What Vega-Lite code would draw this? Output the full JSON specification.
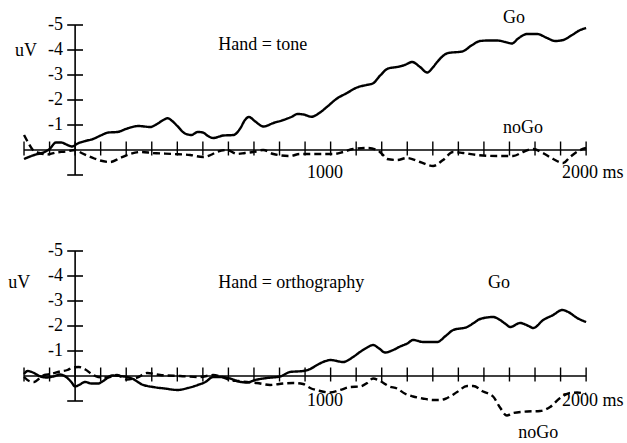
{
  "$schema": "https://vega.github.io/schema/vega-lite/v6.json",
  "background": "white",
  "padding": 0,
  "spacing": 11,
  "config": {"view": {"stroke": null}, "text": {"font": "Liberation Serif", "fontSize": 18, "color": "black"}},
  "datasets": {
    "erp": [
      {"hand": "tone", "cond": "Go", "t": -200, "v": 0.36},
      {"hand": "tone", "cond": "Go", "t": -160, "v": 0.2},
      {"hand": "tone", "cond": "Go", "t": -120, "v": 0.08},
      {"hand": "tone", "cond": "Go", "t": -100, "v": -0.04},
      {"hand": "tone", "cond": "Go", "t": -75, "v": -0.3},
      {"hand": "tone", "cond": "Go", "t": -55, "v": -0.3},
      {"hand": "tone", "cond": "Go", "t": -30, "v": -0.2},
      {"hand": "tone", "cond": "Go", "t": -12, "v": -0.14},
      {"hand": "tone", "cond": "Go", "t": 10, "v": -0.26},
      {"hand": "tone", "cond": "Go", "t": 40, "v": -0.36},
      {"hand": "tone", "cond": "Go", "t": 70, "v": -0.44},
      {"hand": "tone", "cond": "Go", "t": 100, "v": -0.58},
      {"hand": "tone", "cond": "Go", "t": 130, "v": -0.7},
      {"hand": "tone", "cond": "Go", "t": 165, "v": -0.72},
      {"hand": "tone", "cond": "Go", "t": 204, "v": -0.86},
      {"hand": "tone", "cond": "Go", "t": 247, "v": -0.96},
      {"hand": "tone", "cond": "Go", "t": 294, "v": -0.92},
      {"hand": "tone", "cond": "Go", "t": 321, "v": -1.04},
      {"hand": "tone", "cond": "Go", "t": 345, "v": -1.2},
      {"hand": "tone", "cond": "Go", "t": 362, "v": -1.27},
      {"hand": "tone", "cond": "Go", "t": 380, "v": -1.16},
      {"hand": "tone", "cond": "Go", "t": 400, "v": -0.96},
      {"hand": "tone", "cond": "Go", "t": 430, "v": -0.66},
      {"hand": "tone", "cond": "Go", "t": 455, "v": -0.6},
      {"hand": "tone", "cond": "Go", "t": 480, "v": -0.72},
      {"hand": "tone", "cond": "Go", "t": 500, "v": -0.7},
      {"hand": "tone", "cond": "Go", "t": 520, "v": -0.56},
      {"hand": "tone", "cond": "Go", "t": 540, "v": -0.48},
      {"hand": "tone", "cond": "Go", "t": 580, "v": -0.58},
      {"hand": "tone", "cond": "Go", "t": 620, "v": -0.6},
      {"hand": "tone", "cond": "Go", "t": 646, "v": -0.86},
      {"hand": "tone", "cond": "Go", "t": 665, "v": -1.2},
      {"hand": "tone", "cond": "Go", "t": 680, "v": -1.32},
      {"hand": "tone", "cond": "Go", "t": 705, "v": -1.14},
      {"hand": "tone", "cond": "Go", "t": 737, "v": -0.94},
      {"hand": "tone", "cond": "Go", "t": 776, "v": -1.08},
      {"hand": "tone", "cond": "Go", "t": 815, "v": -1.2},
      {"hand": "tone", "cond": "Go", "t": 850, "v": -1.34},
      {"hand": "tone", "cond": "Go", "t": 870, "v": -1.44},
      {"hand": "tone", "cond": "Go", "t": 894, "v": -1.42},
      {"hand": "tone", "cond": "Go", "t": 925, "v": -1.33},
      {"hand": "tone", "cond": "Go", "t": 953, "v": -1.46},
      {"hand": "tone", "cond": "Go", "t": 985, "v": -1.72},
      {"hand": "tone", "cond": "Go", "t": 1025, "v": -2.06},
      {"hand": "tone", "cond": "Go", "t": 1064, "v": -2.28},
      {"hand": "tone", "cond": "Go", "t": 1103, "v": -2.5},
      {"hand": "tone", "cond": "Go", "t": 1140, "v": -2.6},
      {"hand": "tone", "cond": "Go", "t": 1165, "v": -2.66},
      {"hand": "tone", "cond": "Go", "t": 1194, "v": -2.98},
      {"hand": "tone", "cond": "Go", "t": 1225, "v": -3.26},
      {"hand": "tone", "cond": "Go", "t": 1260, "v": -3.32},
      {"hand": "tone", "cond": "Go", "t": 1290, "v": -3.4},
      {"hand": "tone", "cond": "Go", "t": 1319, "v": -3.52},
      {"hand": "tone", "cond": "Go", "t": 1350, "v": -3.32},
      {"hand": "tone", "cond": "Go", "t": 1378, "v": -3.1},
      {"hand": "tone", "cond": "Go", "t": 1400, "v": -3.3},
      {"hand": "tone", "cond": "Go", "t": 1417, "v": -3.52},
      {"hand": "tone", "cond": "Go", "t": 1460, "v": -3.88},
      {"hand": "tone", "cond": "Go", "t": 1515, "v": -3.94},
      {"hand": "tone", "cond": "Go", "t": 1554, "v": -4.2},
      {"hand": "tone", "cond": "Go", "t": 1585, "v": -4.36},
      {"hand": "tone", "cond": "Go", "t": 1620, "v": -4.38},
      {"hand": "tone", "cond": "Go", "t": 1652, "v": -4.38},
      {"hand": "tone", "cond": "Go", "t": 1683, "v": -4.32},
      {"hand": "tone", "cond": "Go", "t": 1710, "v": -4.26},
      {"hand": "tone", "cond": "Go", "t": 1734, "v": -4.46},
      {"hand": "tone", "cond": "Go", "t": 1769, "v": -4.64},
      {"hand": "tone", "cond": "Go", "t": 1808, "v": -4.64},
      {"hand": "tone", "cond": "Go", "t": 1847, "v": -4.48},
      {"hand": "tone", "cond": "Go", "t": 1879, "v": -4.36},
      {"hand": "tone", "cond": "Go", "t": 1910, "v": -4.4},
      {"hand": "tone", "cond": "Go", "t": 1945, "v": -4.6},
      {"hand": "tone", "cond": "Go", "t": 1977, "v": -4.8},
      {"hand": "tone", "cond": "Go", "t": 2000, "v": -4.88},

      {"hand": "tone", "cond": "noGo", "t": -200, "v": -0.6},
      {"hand": "tone", "cond": "noGo", "t": -184, "v": -0.3},
      {"hand": "tone", "cond": "noGo", "t": -165, "v": 0.0},
      {"hand": "tone", "cond": "noGo", "t": -140, "v": 0.12},
      {"hand": "tone", "cond": "noGo", "t": -110, "v": 0.18},
      {"hand": "tone", "cond": "noGo", "t": -75, "v": 0.1},
      {"hand": "tone", "cond": "noGo", "t": -35, "v": 0.06},
      {"hand": "tone", "cond": "noGo", "t": 0, "v": 0.0},
      {"hand": "tone", "cond": "noGo", "t": 25, "v": 0.12},
      {"hand": "tone", "cond": "noGo", "t": 47, "v": 0.22},
      {"hand": "tone", "cond": "noGo", "t": 75, "v": 0.34},
      {"hand": "tone", "cond": "noGo", "t": 98, "v": 0.42},
      {"hand": "tone", "cond": "noGo", "t": 137, "v": 0.48},
      {"hand": "tone", "cond": "noGo", "t": 176, "v": 0.32},
      {"hand": "tone", "cond": "noGo", "t": 215, "v": 0.16},
      {"hand": "tone", "cond": "noGo", "t": 254, "v": 0.08},
      {"hand": "tone", "cond": "noGo", "t": 305, "v": 0.12},
      {"hand": "tone", "cond": "noGo", "t": 384, "v": 0.16},
      {"hand": "tone", "cond": "noGo", "t": 450, "v": 0.2},
      {"hand": "tone", "cond": "noGo", "t": 501, "v": 0.28},
      {"hand": "tone", "cond": "noGo", "t": 530, "v": 0.2},
      {"hand": "tone", "cond": "noGo", "t": 555, "v": 0.08},
      {"hand": "tone", "cond": "noGo", "t": 595, "v": 0.0},
      {"hand": "tone", "cond": "noGo", "t": 634, "v": 0.16},
      {"hand": "tone", "cond": "noGo", "t": 665, "v": 0.12},
      {"hand": "tone", "cond": "noGo", "t": 697, "v": 0.08},
      {"hand": "tone", "cond": "noGo", "t": 736, "v": 0.0},
      {"hand": "tone", "cond": "noGo", "t": 776, "v": 0.16},
      {"hand": "tone", "cond": "noGo", "t": 841, "v": 0.24},
      {"hand": "tone", "cond": "noGo", "t": 880, "v": 0.16},
      {"hand": "tone", "cond": "noGo", "t": 960, "v": 0.16},
      {"hand": "tone", "cond": "noGo", "t": 1010, "v": 0.16},
      {"hand": "tone", "cond": "noGo", "t": 1049, "v": 0.08},
      {"hand": "tone", "cond": "noGo", "t": 1088, "v": -0.04},
      {"hand": "tone", "cond": "noGo", "t": 1143, "v": -0.08},
      {"hand": "tone", "cond": "noGo", "t": 1182, "v": 0.0},
      {"hand": "tone", "cond": "noGo", "t": 1205, "v": 0.2},
      {"hand": "tone", "cond": "noGo", "t": 1221, "v": 0.36},
      {"hand": "tone", "cond": "noGo", "t": 1260, "v": 0.4},
      {"hand": "tone", "cond": "noGo", "t": 1299, "v": 0.32},
      {"hand": "tone", "cond": "noGo", "t": 1350, "v": 0.48},
      {"hand": "tone", "cond": "noGo", "t": 1401, "v": 0.64},
      {"hand": "tone", "cond": "noGo", "t": 1440, "v": 0.4},
      {"hand": "tone", "cond": "noGo", "t": 1479, "v": 0.08},
      {"hand": "tone", "cond": "noGo", "t": 1518, "v": 0.12},
      {"hand": "tone", "cond": "noGo", "t": 1573, "v": 0.2},
      {"hand": "tone", "cond": "noGo", "t": 1652, "v": 0.24},
      {"hand": "tone", "cond": "noGo", "t": 1714, "v": 0.24},
      {"hand": "tone", "cond": "noGo", "t": 1753, "v": 0.08},
      {"hand": "tone", "cond": "noGo", "t": 1792, "v": -0.04},
      {"hand": "tone", "cond": "noGo", "t": 1831, "v": 0.12},
      {"hand": "tone", "cond": "noGo", "t": 1871, "v": 0.36},
      {"hand": "tone", "cond": "noGo", "t": 1910, "v": 0.52},
      {"hand": "tone", "cond": "noGo", "t": 1937, "v": 0.28},
      {"hand": "tone", "cond": "noGo", "t": 1969, "v": 0.04},
      {"hand": "tone", "cond": "noGo", "t": 2000, "v": -0.08},

      {"hand": "orthography", "cond": "Go", "t": -200, "v": -0.08},
      {"hand": "orthography", "cond": "Go", "t": -185, "v": -0.2},
      {"hand": "orthography", "cond": "Go", "t": -165, "v": -0.14},
      {"hand": "orthography", "cond": "Go", "t": -140, "v": 0.0},
      {"hand": "orthography", "cond": "Go", "t": -110, "v": 0.06},
      {"hand": "orthography", "cond": "Go", "t": -85, "v": 0.02},
      {"hand": "orthography", "cond": "Go", "t": -59, "v": -0.06},
      {"hand": "orthography", "cond": "Go", "t": -35, "v": 0.04},
      {"hand": "orthography", "cond": "Go", "t": -15, "v": 0.24},
      {"hand": "orthography", "cond": "Go", "t": 0, "v": 0.42},
      {"hand": "orthography", "cond": "Go", "t": 15, "v": 0.36},
      {"hand": "orthography", "cond": "Go", "t": 39, "v": 0.24},
      {"hand": "orthography", "cond": "Go", "t": 65, "v": 0.3},
      {"hand": "orthography", "cond": "Go", "t": 90, "v": 0.3},
      {"hand": "orthography", "cond": "Go", "t": 110, "v": 0.2},
      {"hand": "orthography", "cond": "Go", "t": 145, "v": -0.02},
      {"hand": "orthography", "cond": "Go", "t": 175, "v": 0.0},
      {"hand": "orthography", "cond": "Go", "t": 203, "v": 0.04},
      {"hand": "orthography", "cond": "Go", "t": 223, "v": 0.1},
      {"hand": "orthography", "cond": "Go", "t": 262, "v": 0.34},
      {"hand": "orthography", "cond": "Go", "t": 305, "v": 0.44},
      {"hand": "orthography", "cond": "Go", "t": 350, "v": 0.5},
      {"hand": "orthography", "cond": "Go", "t": 403, "v": 0.56},
      {"hand": "orthography", "cond": "Go", "t": 442, "v": 0.48},
      {"hand": "orthography", "cond": "Go", "t": 480, "v": 0.36},
      {"hand": "orthography", "cond": "Go", "t": 510, "v": 0.24},
      {"hand": "orthography", "cond": "Go", "t": 540, "v": 0.04},
      {"hand": "orthography", "cond": "Go", "t": 575, "v": 0.04},
      {"hand": "orthography", "cond": "Go", "t": 607, "v": 0.1},
      {"hand": "orthography", "cond": "Go", "t": 640, "v": 0.22},
      {"hand": "orthography", "cond": "Go", "t": 673, "v": 0.26},
      {"hand": "orthography", "cond": "Go", "t": 705, "v": 0.16},
      {"hand": "orthography", "cond": "Go", "t": 751, "v": 0.08},
      {"hand": "orthography", "cond": "Go", "t": 802, "v": 0.02},
      {"hand": "orthography", "cond": "Go", "t": 841, "v": -0.16},
      {"hand": "orthography", "cond": "Go", "t": 892, "v": -0.2},
      {"hand": "orthography", "cond": "Go", "t": 920, "v": -0.28},
      {"hand": "orthography", "cond": "Go", "t": 947, "v": -0.44},
      {"hand": "orthography", "cond": "Go", "t": 975, "v": -0.58},
      {"hand": "orthography", "cond": "Go", "t": 1000, "v": -0.64},
      {"hand": "orthography", "cond": "Go", "t": 1049, "v": -0.56},
      {"hand": "orthography", "cond": "Go", "t": 1088, "v": -0.76},
      {"hand": "orthography", "cond": "Go", "t": 1115, "v": -0.96},
      {"hand": "orthography", "cond": "Go", "t": 1143, "v": -1.14},
      {"hand": "orthography", "cond": "Go", "t": 1166, "v": -1.24},
      {"hand": "orthography", "cond": "Go", "t": 1190, "v": -1.1},
      {"hand": "orthography", "cond": "Go", "t": 1213, "v": -0.94},
      {"hand": "orthography", "cond": "Go", "t": 1245, "v": -1.04},
      {"hand": "orthography", "cond": "Go", "t": 1272, "v": -1.18},
      {"hand": "orthography", "cond": "Go", "t": 1300, "v": -1.3},
      {"hand": "orthography", "cond": "Go", "t": 1323, "v": -1.44},
      {"hand": "orthography", "cond": "Go", "t": 1362, "v": -1.36},
      {"hand": "orthography", "cond": "Go", "t": 1417, "v": -1.36},
      {"hand": "orthography", "cond": "Go", "t": 1450, "v": -1.6},
      {"hand": "orthography", "cond": "Go", "t": 1480, "v": -1.84},
      {"hand": "orthography", "cond": "Go", "t": 1534, "v": -1.96},
      {"hand": "orthography", "cond": "Go", "t": 1560, "v": -2.12},
      {"hand": "orthography", "cond": "Go", "t": 1585, "v": -2.28},
      {"hand": "orthography", "cond": "Go", "t": 1636, "v": -2.36},
      {"hand": "orthography", "cond": "Go", "t": 1663, "v": -2.24},
      {"hand": "orthography", "cond": "Go", "t": 1685, "v": -2.08},
      {"hand": "orthography", "cond": "Go", "t": 1703, "v": -1.96},
      {"hand": "orthography", "cond": "Go", "t": 1742, "v": -2.12},
      {"hand": "orthography", "cond": "Go", "t": 1775, "v": -2.0},
      {"hand": "orthography", "cond": "Go", "t": 1793, "v": -1.92},
      {"hand": "orthography", "cond": "Go", "t": 1832, "v": -2.24},
      {"hand": "orthography", "cond": "Go", "t": 1871, "v": -2.44},
      {"hand": "orthography", "cond": "Go", "t": 1906, "v": -2.64},
      {"hand": "orthography", "cond": "Go", "t": 1930, "v": -2.56},
      {"hand": "orthography", "cond": "Go", "t": 1965, "v": -2.32},
      {"hand": "orthography", "cond": "Go", "t": 2000, "v": -2.16},

      {"hand": "orthography", "cond": "noGo", "t": -200, "v": 0.04},
      {"hand": "orthography", "cond": "noGo", "t": -180, "v": 0.2},
      {"hand": "orthography", "cond": "noGo", "t": -160, "v": 0.24},
      {"hand": "orthography", "cond": "noGo", "t": -140, "v": 0.1},
      {"hand": "orthography", "cond": "noGo", "t": -120, "v": -0.04},
      {"hand": "orthography", "cond": "noGo", "t": -95, "v": -0.08},
      {"hand": "orthography", "cond": "noGo", "t": -60, "v": -0.18},
      {"hand": "orthography", "cond": "noGo", "t": -30, "v": -0.24},
      {"hand": "orthography", "cond": "noGo", "t": -10, "v": -0.34},
      {"hand": "orthography", "cond": "noGo", "t": 15, "v": -0.36},
      {"hand": "orthography", "cond": "noGo", "t": 40, "v": -0.26},
      {"hand": "orthography", "cond": "noGo", "t": 65, "v": -0.08},
      {"hand": "orthography", "cond": "noGo", "t": 90, "v": 0.04},
      {"hand": "orthography", "cond": "noGo", "t": 125, "v": 0.06},
      {"hand": "orthography", "cond": "noGo", "t": 164, "v": -0.04},
      {"hand": "orthography", "cond": "noGo", "t": 203, "v": 0.14},
      {"hand": "orthography", "cond": "noGo", "t": 243, "v": 0.06},
      {"hand": "orthography", "cond": "noGo", "t": 282, "v": -0.12},
      {"hand": "orthography", "cond": "noGo", "t": 333, "v": -0.04},
      {"hand": "orthography", "cond": "noGo", "t": 411, "v": 0.0},
      {"hand": "orthography", "cond": "noGo", "t": 489, "v": 0.04},
      {"hand": "orthography", "cond": "noGo", "t": 540, "v": -0.04},
      {"hand": "orthography", "cond": "noGo", "t": 575, "v": 0.04},
      {"hand": "orthography", "cond": "noGo", "t": 607, "v": 0.16},
      {"hand": "orthography", "cond": "noGo", "t": 640, "v": 0.2},
      {"hand": "orthography", "cond": "noGo", "t": 673, "v": 0.24},
      {"hand": "orthography", "cond": "noGo", "t": 712, "v": 0.28},
      {"hand": "orthography", "cond": "noGo", "t": 763, "v": 0.36},
      {"hand": "orthography", "cond": "noGo", "t": 814, "v": 0.3},
      {"hand": "orthography", "cond": "noGo", "t": 853, "v": 0.28},
      {"hand": "orthography", "cond": "noGo", "t": 892, "v": 0.32},
      {"hand": "orthography", "cond": "noGo", "t": 920, "v": 0.48},
      {"hand": "orthography", "cond": "noGo", "t": 959, "v": 0.6},
      {"hand": "orthography", "cond": "noGo", "t": 998, "v": 0.66},
      {"hand": "orthography", "cond": "noGo", "t": 1037, "v": 0.56},
      {"hand": "orthography", "cond": "noGo", "t": 1076, "v": 0.44},
      {"hand": "orthography", "cond": "noGo", "t": 1115, "v": 0.42},
      {"hand": "orthography", "cond": "noGo", "t": 1143, "v": 0.28},
      {"hand": "orthography", "cond": "noGo", "t": 1166, "v": 0.1},
      {"hand": "orthography", "cond": "noGo", "t": 1194, "v": 0.2},
      {"hand": "orthography", "cond": "noGo", "t": 1230, "v": 0.42},
      {"hand": "orthography", "cond": "noGo", "t": 1260, "v": 0.5},
      {"hand": "orthography", "cond": "noGo", "t": 1290, "v": 0.7},
      {"hand": "orthography", "cond": "noGo", "t": 1323, "v": 0.82},
      {"hand": "orthography", "cond": "noGo", "t": 1360, "v": 0.9},
      {"hand": "orthography", "cond": "noGo", "t": 1401, "v": 0.96},
      {"hand": "orthography", "cond": "noGo", "t": 1430, "v": 0.96},
      {"hand": "orthography", "cond": "noGo", "t": 1456, "v": 0.88},
      {"hand": "orthography", "cond": "noGo", "t": 1495, "v": 0.64},
      {"hand": "orthography", "cond": "noGo", "t": 1534, "v": 0.4},
      {"hand": "orthography", "cond": "noGo", "t": 1558, "v": 0.4},
      {"hand": "orthography", "cond": "noGo", "t": 1597, "v": 0.62},
      {"hand": "orthography", "cond": "noGo", "t": 1636, "v": 0.82},
      {"hand": "orthography", "cond": "noGo", "t": 1663, "v": 1.26},
      {"hand": "orthography", "cond": "noGo", "t": 1690, "v": 1.58},
      {"hand": "orthography", "cond": "noGo", "t": 1714, "v": 1.48},
      {"hand": "orthography", "cond": "noGo", "t": 1769, "v": 1.42},
      {"hand": "orthography", "cond": "noGo", "t": 1820, "v": 1.4},
      {"hand": "orthography", "cond": "noGo", "t": 1859, "v": 1.24},
      {"hand": "orthography", "cond": "noGo", "t": 1898, "v": 0.88},
      {"hand": "orthography", "cond": "noGo", "t": 1937, "v": 0.68},
      {"hand": "orthography", "cond": "noGo", "t": 1965, "v": 0.66},
      {"hand": "orthography", "cond": "noGo", "t": 2000, "v": 0.72}
    ],
    "xticks": [
      {"t": -200}, {"t": -100}, {"t": 0}, {"t": 100}, {"t": 200}, {"t": 300}, {"t": 400}, {"t": 500},
      {"t": 600}, {"t": 700}, {"t": 800}, {"t": 900}, {"t": 1000}, {"t": 1100}, {"t": 1200}, {"t": 1300},
      {"t": 1400}, {"t": 1500}, {"t": 1600}, {"t": 1700}, {"t": 1800}, {"t": 1900}, {"t": 2000}
    ],
    "yticks": [
      {"v": -5, "label": "-5"}, {"v": -4, "label": "-4"}, {"v": -3, "label": "-3"},
      {"v": -2, "label": "-2"}, {"v": -1, "label": "-1"}, {"v": 1, "label": ""}
    ],
    "notes": [
      {"hand": "tone", "label": "uV", "t": -235, "v": -3.95},
      {"hand": "tone", "label": "Hand = tone", "t": 560, "v": -4.2},
      {"hand": "tone", "label": "Go", "t": 1675, "v": -5.28},
      {"hand": "tone", "label": "noGo", "t": 1675, "v": -0.88},
      {"hand": "tone", "label": "1000", "t": 908, "v": 0.92},
      {"hand": "tone", "label": "2000 ms", "t": 1906, "v": 0.92},
      {"hand": "orthography", "label": "uV", "t": -262, "v": -3.72},
      {"hand": "orthography", "label": "Hand = orthography", "t": 560, "v": -3.72},
      {"hand": "orthography", "label": "Go", "t": 1616, "v": -3.72},
      {"hand": "orthography", "label": "noGo", "t": 1734, "v": 2.28},
      {"hand": "orthography", "label": "1000", "t": 908, "v": 1.0},
      {"hand": "orthography", "label": "2000 ms", "t": 1906, "v": 1.0}
    ]
  },
  "vconcat": [
    {
      "width": 627,
      "height": 215,
      "layer": [
        {
          "data": {"name": "erp"},
          "transform": [{"filter": "datum.hand === 'tone'"}],
          "mark": {"type": "line", "color": "black", "strokeWidth": 2.4, "interpolate": "monotone"},
          "encoding": {
            "x": {"field": "t", "type": "quantitative", "scale": {"domain": [-294, 2160], "nice": false, "zero": false}, "axis": null},
            "y": {"field": "v", "type": "quantitative", "scale": {"domain": [-6, 2.6], "reverse": true, "nice": false, "zero": false}, "axis": null},
            "strokeDash": {"field": "cond", "type": "nominal", "scale": {"domain": ["Go", "noGo"], "range": [[1, 0], [7, 4]]}, "legend": null}
          }
        },
        {
          "data": {"values": [{}]},
          "mark": {"type": "rule", "color": "black", "strokeWidth": 1.6},
          "encoding": {"x": {"datum": -200}, "x2": {"datum": 2000}, "y": {"datum": 0}}
        },
        {
          "data": {"values": [{}]},
          "mark": {"type": "rule", "color": "black", "strokeWidth": 1.6},
          "encoding": {"x": {"datum": 0}, "y": {"datum": -5}, "y2": {"datum": 1}}
        },
        {
          "data": {"name": "xticks"},
          "mark": {"type": "rule", "color": "black", "strokeWidth": 1.4},
          "encoding": {"x": {"field": "t", "type": "quantitative"}, "y": {"datum": -0.34}, "y2": {"datum": 0.22}}
        },
        {
          "data": {"name": "yticks"},
          "mark": {"type": "rule", "color": "black", "strokeWidth": 1.6},
          "encoding": {"y": {"field": "v", "type": "quantitative"}, "x": {"datum": -31}, "x2": {"datum": 31}}
        },
        {
          "data": {"name": "yticks"},
          "mark": {"type": "text", "align": "right", "baseline": "middle", "dx": -12},
          "encoding": {"y": {"field": "v", "type": "quantitative"}, "x": {"datum": 0}, "text": {"field": "label"}}
        },
        {
          "data": {"name": "notes"},
          "transform": [{"filter": "datum.hand === 'tone'"}],
          "mark": {"type": "text", "align": "left", "baseline": "middle"},
          "encoding": {"x": {"field": "t", "type": "quantitative"}, "y": {"field": "v", "type": "quantitative"}, "text": {"field": "label"}}
        }
      ]
    },
    {
      "width": 627,
      "height": 215,
      "layer": [
        {
          "data": {"name": "erp"},
          "transform": [{"filter": "datum.hand === 'orthography'"}],
          "mark": {"type": "line", "color": "black", "strokeWidth": 2.4, "interpolate": "monotone"},
          "encoding": {
            "x": {"field": "t", "type": "quantitative", "scale": {"domain": [-294, 2160], "nice": false, "zero": false}, "axis": null},
            "y": {"field": "v", "type": "quantitative", "scale": {"domain": [-6, 2.6], "reverse": true, "nice": false, "zero": false}, "axis": null},
            "strokeDash": {"field": "cond", "type": "nominal", "scale": {"domain": ["Go", "noGo"], "range": [[1, 0], [7, 4]]}, "legend": null}
          }
        },
        {
          "data": {"values": [{}]},
          "mark": {"type": "rule", "color": "black", "strokeWidth": 1.6},
          "encoding": {"x": {"datum": -200}, "x2": {"datum": 2000}, "y": {"datum": 0}}
        },
        {
          "data": {"values": [{}]},
          "mark": {"type": "rule", "color": "black", "strokeWidth": 1.6},
          "encoding": {"x": {"datum": 0}, "y": {"datum": -5}, "y2": {"datum": 1}}
        },
        {
          "data": {"name": "xticks"},
          "mark": {"type": "rule", "color": "black", "strokeWidth": 1.4},
          "encoding": {"x": {"field": "t", "type": "quantitative"}, "y": {"datum": -0.34}, "y2": {"datum": 0.22}}
        },
        {
          "data": {"name": "yticks"},
          "mark": {"type": "rule", "color": "black", "strokeWidth": 1.6},
          "encoding": {"y": {"field": "v", "type": "quantitative"}, "x": {"datum": -31}, "x2": {"datum": 31}}
        },
        {
          "data": {"name": "yticks"},
          "mark": {"type": "text", "align": "right", "baseline": "middle", "dx": -12},
          "encoding": {"y": {"field": "v", "type": "quantitative"}, "x": {"datum": 0}, "text": {"field": "label"}}
        },
        {
          "data": {"name": "notes"},
          "transform": [{"filter": "datum.hand === 'orthography'"}],
          "mark": {"type": "text", "align": "left", "baseline": "middle"},
          "encoding": {"x": {"field": "t", "type": "quantitative"}, "y": {"field": "v", "type": "quantitative"}, "text": {"field": "label"}}
        }
      ]
    }
  ]
}
